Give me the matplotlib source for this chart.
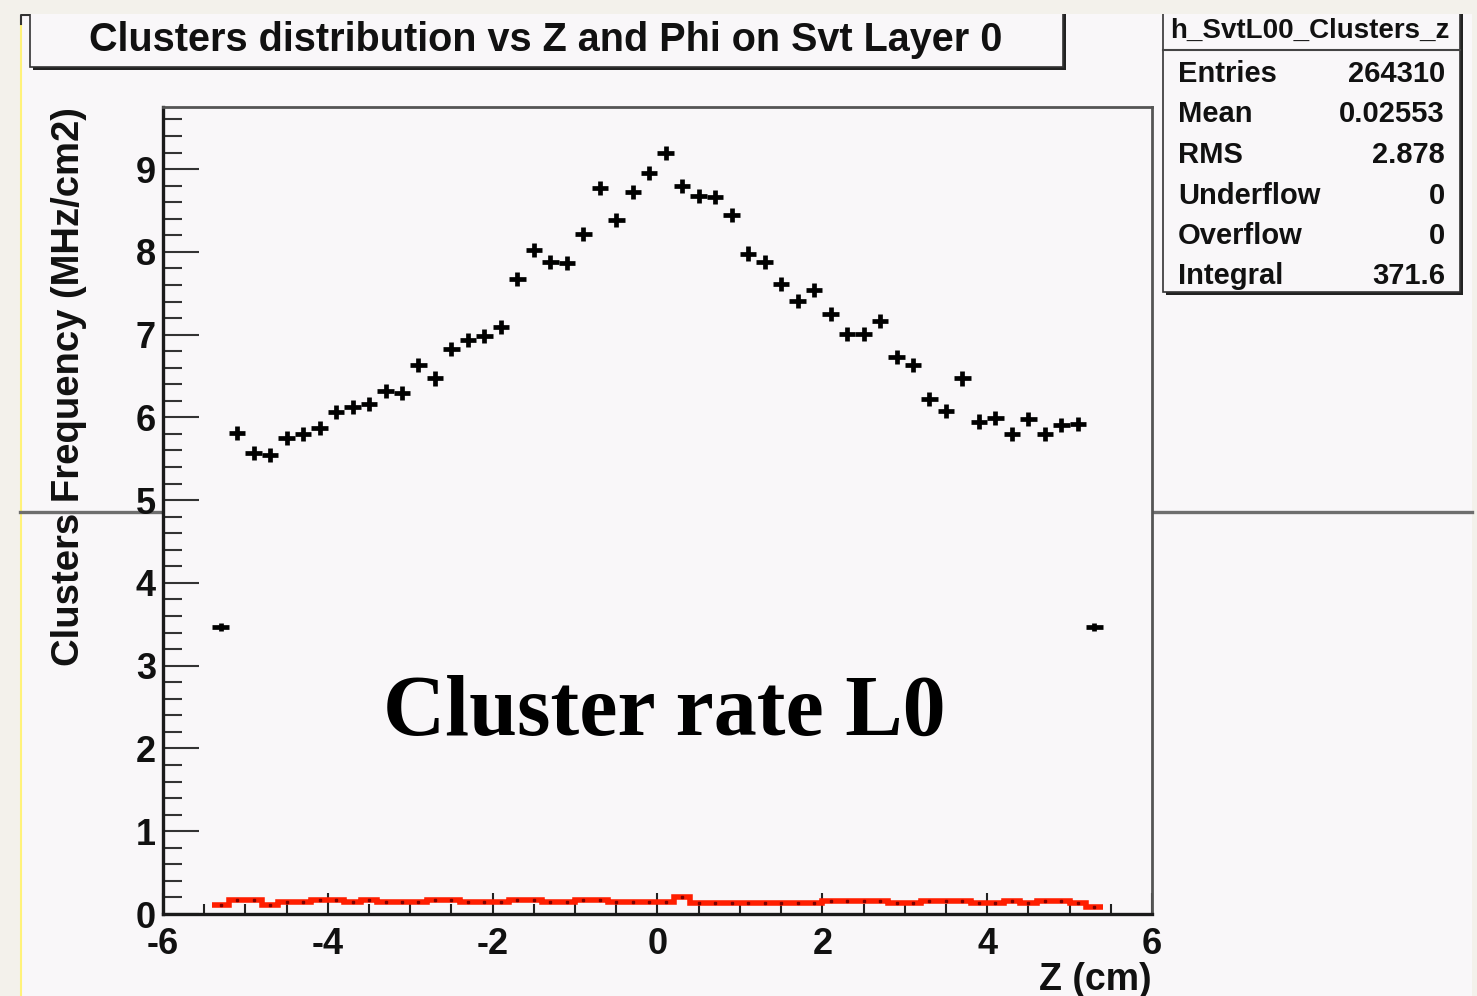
import numpy as np
import matplotlib
matplotlib.use("Agg")
import matplotlib.pyplot as plt
from matplotlib.patches import Rectangle
from matplotlib.lines import Line2D
from matplotlib.ticker import MultipleLocator

# ---------------- data ----------------
bin_low, bin_high, n_bins = -5.4, 5.4, 54

cluster_rate = [3.47, 5.81, 5.57, 5.55, 5.75, 5.80, 5.87, 6.07, 6.12, 6.16,
                6.32, 6.30, 6.63, 6.47, 6.83, 6.94, 6.98, 7.09, 7.67, 8.02,
                7.88, 7.87, 8.22, 8.77, 8.39, 8.72, 8.95, 9.19, 8.79, 8.67,
                8.66, 8.44, 7.98, 7.88, 7.61, 7.41, 7.54, 7.25, 7.01, 7.01,
                7.17, 6.73, 6.63, 6.22, 6.08, 6.47, 5.95, 5.99, 5.80, 5.98,
                5.80, 5.91, 5.92, 3.47]
cluster_err = [0.05] + [0.085] * 52 + [0.05]

red_rate = [0.11, 0.17, 0.17, 0.11, 0.14, 0.14, 0.17, 0.17, 0.14, 0.17,
            0.14, 0.14, 0.14, 0.17, 0.17, 0.14, 0.14, 0.14, 0.17, 0.17,
            0.14, 0.14, 0.17, 0.17, 0.14, 0.14, 0.14,
            0.14, 0.20, 0.13, 0.13, 0.13, 0.13, 0.13, 0.13, 0.13, 0.13,
            0.16, 0.16, 0.16, 0.16, 0.13, 0.13, 0.16, 0.16, 0.16, 0.13,
            0.13, 0.16, 0.13, 0.16, 0.16, 0.13, 0.09]

x_ticks = [-6, -4, -2, 0, 2, 4, 6]
y_ticks = [0, 1, 2, 3, 4, 5, 6, 7, 8, 9]

title = "Clusters distribution vs Z and Phi on Svt Layer 0"
x_label = "Z (cm)"
y_label = "Clusters Frequency (MHz/cm2)"
overlay = "Cluster rate L0"
stats_name = "h_SvtL00_Clusters_z"
stats_keys = ["Entries", "Mean", "RMS", "Underflow", "Overflow", "Integral"]
stats_vals = ["264310", "0.02553", "2.878", "0", "0", "371.6"]

# ---------------- layout helpers ----------------
W, H = 1477, 996
def fx(px): return px / W
def fy(py): return 1 - py / H

SANS = ["Liberation Sans", "DejaVu Sans"]
SERIF = ["Liberation Serif", "DejaVu Serif"]
plt.rcParams["font.family"] = SANS
plt.rcParams["axes.unicode_minus"] = False

OUTER = "#f3f1eb"
CANVAS = "#f9f7f9"

fig = plt.figure(figsize=(W / 100, H / 100), dpi=100)
fig.patch.set_facecolor(OUTER)

# ROOT canvas
fig.add_artist(Rectangle((fx(20), fy(996)), fx(1472) - fx(20), fy(14) - fy(996),
                         transform=fig.transFigure, facecolor=CANVAS,
                         edgecolor="none", zorder=0))
fig.add_artist(Line2D([fx(20.5), fx(20.5)], [fy(20), fy(996)], color="#fff27a",
                      lw=1.5, transform=fig.transFigure, zorder=1))
fig.add_artist(Line2D([fx(21), fx(21), fx(30)], [fy(24), fy(15), fy(15)],
                      color="#333333", lw=1.5, transform=fig.transFigure, zorder=1))

# gray horizontal lines at mid-height
for x0, x1 in [(20, 163), (1153, 1472)]:
    fig.add_artist(Line2D([fx(x0), fx(x1)], [fy(512), fy(512)], color="#6e6e6e",
                          lw=2.4, transform=fig.transFigure, zorder=1))

# ---------------- axes ----------------
ax = fig.add_axes([fx(163), fy(914), fx(1152) - fx(163), fy(107) - fy(914)])
ax.set_facecolor(CANVAS)
ax.set_zorder(2)
ax.set_xlim(-6, 6)
ax.set_ylim(0, 9.75)

edges = np.linspace(bin_low, bin_high, n_bins + 1)
centers = 0.5 * (edges[:-1] + edges[1:])
half = 0.5 * np.diff(edges)

ax.stairs(red_rate, edges, baseline=None, color="#ff1e00", lw=4.0, zorder=3)
ax.plot(centers, red_rate, "s", ms=1.6, color="#7a0000", zorder=4)

ax.errorbar(centers, cluster_rate, xerr=half, yerr=cluster_err, fmt="none",
            ecolor="black", elinewidth=3.4, capsize=0, zorder=5)

for side in ["left", "bottom"]:
    ax.spines[side].set_color("#1a1a1a")
    ax.spines[side].set_linewidth(2.4)
for side in ["top", "right"]:
    ax.spines[side].set_color("#555555")
    ax.spines[side].set_linewidth(2.0)

ax.set_xticks(x_ticks)
ax.set_yticks(y_ticks)
ax.xaxis.set_minor_locator(MultipleLocator(0.5))
ax.yaxis.set_minor_locator(MultipleLocator(0.2))
ax.tick_params(axis="x", which="major", direction="in", length=15, width=1.5,
               color="#222222", pad=9, labelsize=26)
ax.tick_params(axis="x", which="minor", direction="in", length=7, width=1.5,
               color="#222222")
ax.tick_params(axis="y", which="major", direction="in", length=26, width=1.5,
               color="#333333", pad=5, labelsize=26)
ax.tick_params(axis="y", which="minor", direction="in", length=14, width=1.5,
               color="#333333")
for lab in ax.get_xticklabels() + ax.get_yticklabels():
    lab.set_fontweight("bold")
    lab.set_color("#111111")

ax.set_xlabel(x_label, fontsize=27, fontweight="bold", color="#111111")
ax.xaxis.set_label_coords(1.0, -0.059)
ax.xaxis.label.set_horizontalalignment("right")
ax.set_ylabel(y_label, fontsize=27.5, fontweight="bold", color="#111111")
ax.yaxis.set_label_coords(-0.077, 1.0)
ax.yaxis.label.set_horizontalalignment("right")

ax.text(0.507, 0.248, overlay, transform=ax.transAxes, ha="center", va="center",
        fontsize=62, fontweight="bold", family=SERIF, color="black", zorder=6)

# ---------------- title box ----------------
fig.add_artist(Rectangle((fx(33), fy(70)), fx(1066) - fx(33), fy(10) - fy(70),
                         transform=fig.transFigure, facecolor="#222222",
                         edgecolor="none", zorder=3))
fig.add_artist(Rectangle((fx(30), fy(67)), fx(1063) - fx(30), fy(10) - fy(67),
                         transform=fig.transFigure, facecolor=CANVAS,
                         edgecolor="#333333", lw=1.2, zorder=3))
fig.add_artist(Rectangle((fx(20), fy(14)), fx(1472) - fx(20), -fy(14) + 1.0,
                         transform=fig.transFigure, facecolor=OUTER,
                         edgecolor="none", zorder=3.5))
fig.text(fx(546), fy(40), title, ha="center", va="center", fontsize=28.5,
         fontweight="bold", color="#111111", zorder=4)

# ---------------- stats box ----------------
fig.add_artist(Rectangle((fx(1166), fy(295)), fx(1463) - fx(1166), fy(10) - fy(295),
                         transform=fig.transFigure, facecolor="#222222",
                         edgecolor="none", zorder=3))
fig.add_artist(Rectangle((fx(1163), fy(292)), fx(1460) - fx(1163), fy(10) - fy(292),
                         transform=fig.transFigure, facecolor=CANVAS,
                         edgecolor="#333333", lw=1.2, zorder=3))
fig.add_artist(Line2D([fx(1163), fx(1460)], [fy(50), fy(50)], color="#444444",
                      lw=1.5, transform=fig.transFigure, zorder=3.6))
fig.text(fx(1310), fy(31), stats_name, ha="center", va="center", fontsize=20,
         fontweight="bold", color="#111111", zorder=4)
row_y = [74, 114.5, 155, 195.5, 236, 276.5]
for k, v, yy in zip(stats_keys, stats_vals, row_y):
    fig.text(fx(1178), fy(yy), k, ha="left", va="center", fontsize=21,
             fontweight="bold", color="#111111", zorder=4)
    fig.text(fx(1445), fy(yy), v, ha="right", va="center", fontsize=21,
             fontweight="bold", color="#111111", zorder=4)

fig.savefig("out.png", dpi=100, facecolor=fig.get_facecolor())
